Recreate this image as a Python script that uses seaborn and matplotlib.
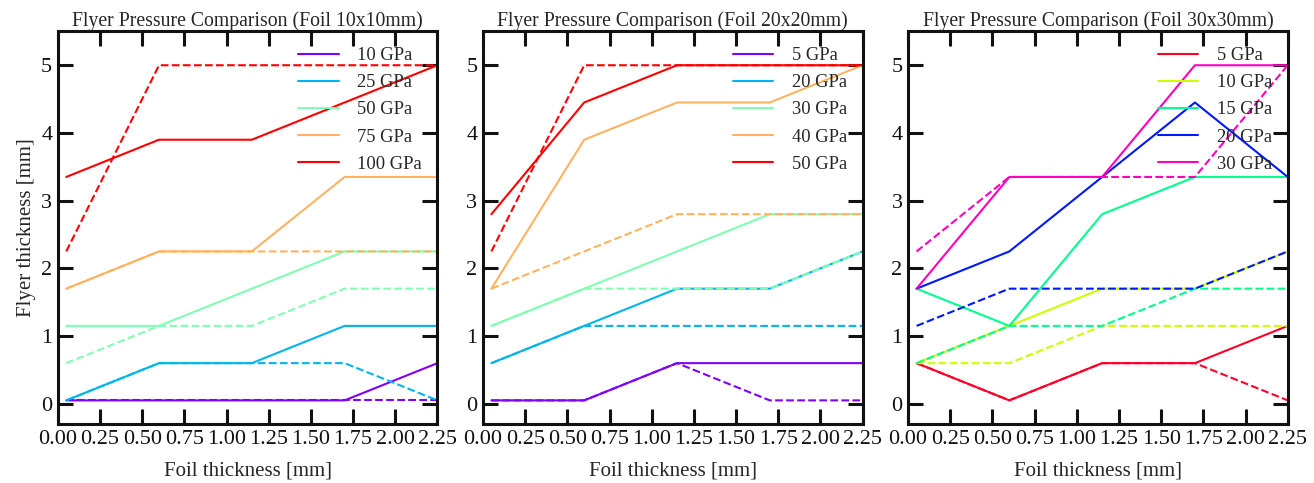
import numpy as np
import pandas as pd
import matplotlib
matplotlib.use("Agg")
import matplotlib.pyplot as plt
import seaborn as sns

# Foil thickness sampled
foil = [0.05, 0.6, 1.15, 1.7, 2.25]

# Foil 10x10 mm
p10_labels = ["10 GPa", "25 GPa", "50 GPa", "75 GPa", "100 GPa"]
p10_solid = [
    [0.05, 0.05, 0.05, 0.05, 0.6],
    [0.05, 0.6, 0.6, 1.15, 1.15],
    [1.15, 1.15, 1.7, 2.25, 2.25],
    [1.7, 2.25, 2.25, 3.35, 3.35],
    [3.35, 3.9, 3.9, 4.45, 5.0],
]
p10_dashed = [
    [0.05, 0.05, 0.05, 0.05, 0.05],
    [0.05, 0.6, 0.6, 0.6, 0.05],
    [0.6, 1.15, 1.15, 1.7, 1.7],
    [1.7, 2.25, 2.25, 2.25, 2.25],
    [2.25, 5.0, 5.0, 5.0, 5.0],
]

# Foil 20x20 mm
p20_labels = ["5 GPa", "20 GPa", "30 GPa", "40 GPa", "50 GPa"]
p20_solid = [
    [0.05, 0.05, 0.6, 0.6, 0.6],
    [0.6, 1.15, 1.7, 1.7, 2.25],
    [1.15, 1.7, 2.25, 2.8, 2.8],
    [1.7, 3.9, 4.45, 4.45, 5.0],
    [2.8, 4.45, 5.0, 5.0, 5.0],
]
p20_dashed = [
    [0.05, 0.05, 0.6, 0.05, 0.05],
    [0.6, 1.15, 1.15, 1.15, 1.15],
    [1.15, 1.7, 1.7, 1.7, 2.25],
    [1.7, 2.25, 2.8, 2.8, 2.8],
    [2.25, 5.0, 5.0, 5.0, 5.0],
]

# Foil 30x30 mm
p30_labels = ["5 GPa", "10 GPa", "15 GPa", "20 GPa", "30 GPa"]
p30_solid = [
    [0.6, 0.05, 0.6, 0.6, 1.15],
    [0.6, 1.15, 1.7, 1.7, 2.25],
    [1.7, 1.15, 2.8, 3.35, 3.35],
    [1.7, 2.25, 3.35, 4.45, 3.35],
    [1.7, 3.35, 3.35, 5.0, 5.0],
]
p30_dashed = [
    [0.6, 0.05, 0.6, 0.6, 0.05],
    [0.6, 0.6, 1.15, 1.15, 1.15],
    [0.6, 1.15, 1.15, 1.7, 1.7],
    [1.15, 1.7, 1.7, 1.7, 2.25],
    [2.25, 3.35, 3.35, 3.35, 5.0],
]

panels = [
    ("Flyer Pressure Comparison (Foil 10x10mm)", p10_labels, p10_solid, p10_dashed, "rainbow"),
    ("Flyer Pressure Comparison (Foil 20x20mm)", p20_labels, p20_solid, p20_dashed, "rainbow"),
    ("Flyer Pressure Comparison (Foil 30x30mm)", p30_labels, p30_solid, p30_dashed, "gist_rainbow"),
]

sns.set_style("ticks")
plt.rcParams["font.family"] = ["Liberation Serif", "DejaVu Serif"]

fig, axes = plt.subplots(1, 3, figsize=(13.14, 4.83), dpi=100)
fig.subplots_adjust(left=0.044, right=0.98, top=0.935, bottom=0.122, wspace=0.12)

for i, (ax, (title, labels, solid, dashed, cmap)) in enumerate(zip(axes, panels)):
    colors = plt.get_cmap(cmap)(np.linspace(0, 1, len(labels)))
    for lab, ys, yd, c in zip(labels, solid, dashed, colors):
        sns.lineplot(x=foil, y=ys, color=c, linewidth=1.5, label=lab, ax=ax)
        sns.lineplot(x=foil, y=yd, color=c, linewidth=1.5, linestyle="--", ax=ax)
    ax.set_xlim(0, 2.25)
    ax.set_ylim(-0.3, 5.5)
    ax.set_xticks(np.arange(0, 2.26, 0.25))
    ax.set_yticks(range(0, 6))
    ax.tick_params(direction="in", length=11, width=2.2, top=True, right=True,
                   labelsize=16, pad=4, colors="#111111")
    for sp in ax.spines.values():
        sp.set_linewidth(2.2)
        sp.set_color("#111111")
    ax.set_title(title, fontsize=14.2, pad=4)
    ax.set_xlabel("Foil thickness [mm]", fontsize=15, labelpad=9)
    if i == 0:
        ax.set_ylabel("Flyer thickness [mm]", fontsize=15, labelpad=4)
    ax.legend(loc="upper right", frameon=False, fontsize=13.3, handlelength=2.2,
              handletextpad=1.0, labelspacing=0.55, borderaxespad=0.45)

fig.savefig("out.png", dpi=100)
